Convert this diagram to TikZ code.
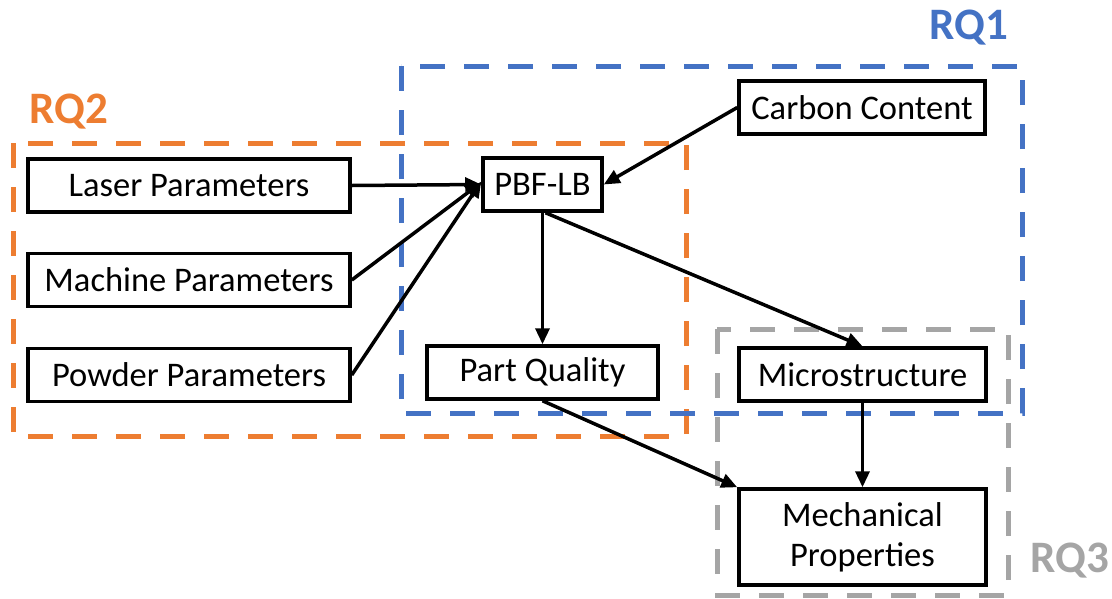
\documentclass[tikz,border=0pt]{standalone}
\usepackage{fontspec}
\setmainfont{Carlito}
\usetikzlibrary{arrows.meta}
\definecolor{rqorange}{HTML}{ED7D31}
\definecolor{rqblue}{HTML}{4472C4}
\definecolor{rqgray}{HTML}{A5A5A5}
\tikzset{
  box/.style={draw=black, line width=3.5pt, fill=white, inner sep=0pt, align=center,
              font=\fontsize{34.5}{40}\selectfont},
  link/.style={line width=3.5pt, -{Triangle[length=16pt,width=14pt]}},
  region/.style={line width=5pt, dash pattern=on 25pt off 19pt},
  rqlabel/.style={font=\fontsize{45}{48}\selectfont\bfseries, inner sep=0pt}
}
\begin{document}
\begin{tikzpicture}[x=1pt,y=-1pt]
  \useasboundingbox (0,0) rectangle (1112,598);

  % research-question regions
  \draw[region, rqorange] (13,143) rectangle (686,436);
  \draw[region, rqblue] (401,66) rectangle (1022,413);
  \draw[region, rqgray] (717,329) rectangle (1008,595);

  \node[rqlabel, text=rqorange] (rq2) at (69,112) {RQ2};
  \node[rqlabel, text=rqblue] (rq1) at (969,28) {RQ1};
  \node[rqlabel, text=rqgray] (rq3) at (1070,561) {RQ3};

  % process boxes
  \node[box, minimum width=322pt, minimum height=53pt] (laser) at (189,185.5) {Laser Parameters};
  \node[box, minimum width=322pt, minimum height=53pt] (machine) at (189,280) {Machine Parameters};
  \node[box, minimum width=322pt, minimum height=53pt] (powder) at (189,375) {Powder Parameters};
  \node[box, minimum width=119pt, minimum height=53pt] (pbf) at (542.5,184.5) {PBF-LB};
  \node[box, minimum width=246pt, minimum height=53pt] (carbon) at (862,107.5) {Carbon Content};
  \node[box, minimum width=231pt, minimum height=53pt] (quality) at (542.5,372.5) {Part Quality};
  \node[box, minimum width=247pt, minimum height=53pt] (micro) at (862.5,374.5) {Microstructure};
  \node[box, minimum width=247pt, minimum height=96pt] (mech) at (862.5,537) {Mechanical\\Properties};

  % influences
  \draw[link] (laser.east) -- (pbf.west);
  \draw[link] (machine.east) -- ([yshift=2pt]pbf.west);
  \draw[link] (powder.east) -- ([yshift=3pt]pbf.west);
  \draw[link] (carbon.west) -- (pbf.east);
  \draw[link] (pbf.south) -- (quality.north);
  \draw[link] ([xshift=3pt]pbf.south) -- (micro.north);
  \draw[link] (micro.south) -- (mech.north);
  \draw[link] (quality.south) -- (mech.north west);
\end{tikzpicture}
\end{document}
